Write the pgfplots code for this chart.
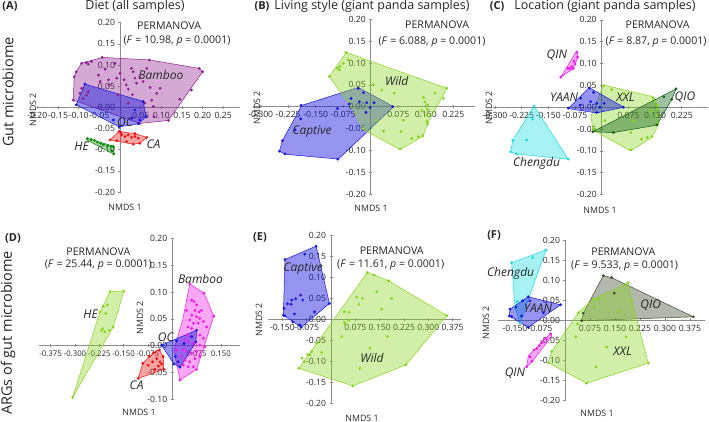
\documentclass[border=0pt]{standalone}
\usepackage{fontspec}
\setmainfont{Open Sans}
\usepackage{pgfplots}
\pgfplotsset{compat=1.18}
\definecolor{axgray}{HTML}{8C8C8C}
\definecolor{txt}{HTML}{262626}
\definecolor{cPurple}{HTML}{8E1F8E}
\definecolor{cBlue}{HTML}{1515E0}
\definecolor{cRed}{HTML}{F01010}
\definecolor{cGreen}{HTML}{0A8A0A}
\definecolor{cLime}{HTML}{86D41A}
\definecolor{cCyan}{HTML}{19D9E0}
\definecolor{cMag}{HTML}{F018E8}
\definecolor{cDark}{HTML}{0E5E14}
\definecolor{cOlive}{HTML}{3E4A30}

\pgfplotsset{
  nmds/.style={axis lines=middle, clip=false, enlargelimits=false, anchor=south west,
    axis line style={-, draw=axgray, line width=0.7pt},
    tick style={draw=axgray, line width=0.6pt}, major tick length=3pt,
    tick label style={font=\fontsize{8.6}{9}\selectfont, text=txt},
    scaled ticks=false, hide obscured x ticks=false, hide obscured y ticks=false,
    /pgf/number format/fixed, /pgf/number format/fixed zerofill,
    /pgf/number format/assume math mode=true,
    yticklabel style={/pgf/number format/precision=2}},
  hull/.style={draw=#1, fill=#1, fill opacity=0.38, line width=0.5pt, mark=none, forget plot},
  pts/.style={only marks, mark=*, mark size=1.2pt, color=#1, mark options={draw=#1, fill=#1}, forget plot},
}
\tikzset{
  grp/.style={font=\fontsize{12}{13}\selectfont\itshape, text=txt},
  perm/.style={font=\fontsize{10.6}{12}\selectfont, text=txt},
}

\begin{document}
\begin{tikzpicture}
\path[use as bounding box] (0pt,0pt) rectangle (709pt,422pt);

% ---------- (A) diet, gut microbiome
\begin{axis}[nmds, at={(37.4pt,230pt)}, x=413pt, y=423.3pt,
  xmin=-0.2, xmax=0.29, ymin=-0.2, ymax=0.2,
  xtick={-0.2,-0.15,-0.1,-0.05,0.05,0.1,0.15,0.2,0.25},
  ytick={-0.2,-0.15,-0.1,-0.05,0,0.05,0.1,0.15,0.2},
  xticklabel style={/pgf/number format/precision=2}]
\addplot[hull=cPurple] coordinates {(-0.113,0.017)(-0.111,0.072)(-0.106,0.084)(-0.093,0.104)(-0.043,0.118)(0.071,0.112)(0.192,0.092)(0.200,0.084)(0.117,-0.031)(0.048,-0.038)} -- cycle;
\addplot[pts=cPurple] coordinates {(-0.111,0.072)(-0.106,0.084)(-0.093,0.104)(-0.082,0.106)(-0.077,0.102)(-0.069,0.108)(-0.043,0.118)(-0.052,0.076)(-0.048,0.061)(-0.036,0.090)(-0.028,0.065)(-0.026,0.053)(-0.012,0.104)(-0.008,0.069)(0.000,0.080)(0.010,0.065)(0.015,0.053)(0.020,0.043)(0.028,0.092)(0.032,0.084)(0.036,0.069)(0.040,0.057)(0.048,0.072)(0.056,0.061)(0.065,0.092)(0.071,0.112)(0.073,0.047)(0.077,0.017)(0.081,0.002)(0.082,-0.022)(0.089,0.033)(0.097,0.045)(0.117,-0.031)(0.145,0.019)(0.173,0.041)(0.192,0.092)(0.200,0.084)(-0.081,0.029)(-0.089,0.021)(-0.097,0.033)(-0.077,0.037)(-0.093,0.045)(-0.113,0.017)(0.048,-0.038)(0.060,0.010)(0.020,0.010)(-0.005,0.030)(0.030,0.030)};
\addplot[hull=cBlue, fill opacity=0.45] coordinates {(-0.085,0.055)(0.056,0.014)(0.063,-0.022)(0.044,-0.039)(-0.002,-0.046)(-0.106,0.006)} -- cycle;
\addplot[pts=cBlue] coordinates {(-0.085,0.055)(-0.106,0.006)(0.056,0.014)(0.063,-0.022)(0.044,-0.039)(-0.002,-0.046)(0.036,-0.006)(0.028,-0.026)(0.048,-0.030)(-0.016,-0.030)};
\addplot[hull=cRed] coordinates {(-0.002,-0.057)(0.036,-0.062)(0.065,-0.071)(0.048,-0.085)(0.032,-0.087)(-0.024,-0.077)} -- cycle;
\addplot[pts=cRed] coordinates {(-0.002,-0.057)(-0.024,-0.077)(0.032,-0.087)(0.065,-0.071)(0.004,-0.065)(0.012,-0.069)(0.020,-0.065)(0.028,-0.071)(0.036,-0.069)(0.044,-0.073)(0.048,-0.085)(0.016,-0.081)(-0.008,-0.079)(0.002,-0.060)(0.036,-0.062)};
\addplot[hull=cGreen] coordinates {(-0.080,-0.073)(-0.015,-0.092)(-0.015,-0.111)(-0.080,-0.077)} -- cycle;
\addplot[pts=cGreen] coordinates {(-0.079,-0.074)(-0.070,-0.076)(-0.062,-0.078)(-0.055,-0.082)(-0.047,-0.085)(-0.040,-0.088)(-0.030,-0.090)(-0.022,-0.092)(-0.016,-0.093)(-0.015,-0.110)(-0.020,-0.103)};
\node[grp] at (axis cs:0.099,0.076) {Bamboo};
\node[grp] at (axis cs:0.012,-0.036) {OC};
\node[grp] at (axis cs:-0.093,-0.093) {HE};
\node[grp] at (axis cs:0.081,-0.087) {CA};
\node[perm] at (axis cs:0.119,0.194) {PERMANOVA};
\node[perm] at (axis cs:0.138,0.157) {(\textit{F} = 10.98, \textit{p} = 0.0001)};
\end{axis}

% ---------- (B) living style, gut microbiome
\begin{axis}[nmds, at={(253.4pt,228pt)}, x=366.7pt, y=436.7pt,
  xmin=-0.32, xmax=0.285, ymin=-0.2, ymax=0.2,
  xtick={-0.3,-0.225,-0.15,-0.075,0.075,0.15,0.225},
  ytick={-0.2,-0.15,-0.1,-0.05,0,0.05,0.1,0.15,0.2},
  xticklabel style={/pgf/number format/precision=3}]
\addplot[hull=cBlue, fill opacity=0.45] coordinates {(-0.188,0.003)(-0.034,0.044)(0.062,0.000)(-0.088,-0.120)(-0.234,-0.109)(-0.249,-0.102)(-0.241,-0.078)} -- cycle;
\addplot[pts=cBlue] coordinates {(-0.034,0.042)(-0.020,0.032)(-0.054,0.019)(-0.031,0.011)(-0.011,0.009)(0.009,0.009)(-0.091,-0.004)(-0.059,0.006)(-0.002,-0.002)(-0.013,-0.013)(0.060,0.000)(-0.190,0.003)(-0.191,-0.028)(-0.206,-0.053)(-0.241,-0.078)(-0.249,-0.102)(-0.234,-0.108)(-0.090,-0.120)};
\addplot[hull=cLime] coordinates {(-0.113,0.069)(-0.067,0.124)(0.208,0.042)(0.160,-0.030)(0.142,-0.068)(0.080,-0.098)(-0.020,-0.053)(-0.050,-0.005)} -- cycle;
\addplot[pts=cLime] coordinates {(-0.067,0.124)(-0.061,0.107)(-0.075,0.099)(-0.084,0.092)(-0.091,0.088)(-0.085,0.084)(-0.113,0.069)(0.007,0.050)(0.030,0.038)(0.064,0.031)(0.144,0.021)(0.148,0.011)(0.155,0.004)(0.155,-0.006)(0.139,-0.009)(0.153,-0.019)(0.153,-0.034)(0.155,-0.040)(0.198,0.019)(0.207,0.042)(0.175,0.031)(0.089,-0.031)(0.035,-0.056)(0.082,-0.057)(0.112,-0.073)(0.130,-0.069)(0.142,-0.067)(0.080,-0.097)(-0.020,-0.050)(0.016,-0.031)};
\node[grp] at (axis cs:0.071,0.059) {Wild};
\node[grp] at (axis cs:-0.160,-0.057) {Captive};
\node[perm] at (axis cs:0.181,0.187) {PERMANOVA};
\node[perm] at (axis cs:0.167,0.149) {(\textit{F} = 6.088, \textit{p} = 0.0001)};
\end{axis}

% ---------- (C) location, gut microbiome
\begin{axis}[nmds, at={(493.2pt,227.4pt)}, x=355.7pt, y=436.7pt,
  xmin=-0.305, xmax=0.30, ymin=-0.2, ymax=0.2,
  xtick={-0.3,-0.225,-0.15,-0.075,0.075,0.15,0.225},
  ytick={-0.2,-0.15,-0.1,-0.05,0,0.05,0.1,0.15,0.2},
  xticklabel style={/pgf/number format/precision=3}]
\addplot[hull=cMag] coordinates {(-0.115,0.069)(-0.071,0.128)(-0.066,0.116)(-0.080,0.088)} -- cycle;
\addplot[pts=cMag] coordinates {(-0.070,0.126)(-0.068,0.115)(-0.078,0.105)(-0.075,0.099)(-0.084,0.093)(-0.089,0.089)(-0.095,0.089)(-0.080,0.089)(-0.115,0.069)};
\addplot[hull=cCyan] coordinates {(-0.190,0.003)(-0.094,-0.119)(-0.239,-0.107)(-0.256,-0.102)(-0.250,-0.076)} -- cycle;
\addplot[pts=cCyan] coordinates {(-0.190,0.003)(-0.194,-0.027)(-0.211,-0.075)(-0.250,-0.076)(-0.256,-0.102)(-0.239,-0.107)(-0.094,-0.119)};
\addplot[hull=cLime] coordinates {(0.005,0.051)(0.145,0.024)(0.160,-0.005)(0.158,-0.042)(0.141,-0.069)(0.082,-0.100)(-0.025,-0.052)(-0.030,-0.020)} -- cycle;
\addplot[pts=cLime] coordinates {(0.005,0.049)(0.028,0.040)(0.063,0.031)(0.145,0.021)(0.150,0.013)(0.157,0.005)(0.157,-0.005)(0.141,-0.008)(0.155,-0.018)(0.155,-0.035)(0.157,-0.040)(0.089,-0.031)(0.082,-0.058)(0.112,-0.073)(0.128,-0.069)(0.141,-0.067)(0.082,-0.098)(-0.023,-0.050)(0.009,-0.031)};
\addplot[hull=cDark, fill opacity=0.4] coordinates {(-0.025,-0.056)(0.209,0.042)(0.197,0.018)(0.155,-0.041)(0.033,-0.058)} -- cycle;
\addplot[pts=cDark] coordinates {(-0.025,-0.056)(0.033,-0.058)(0.209,0.042)(0.197,0.018)(0.175,0.024)(0.155,-0.040)};
\addplot[hull=cBlue, fill opacity=0.45] coordinates {(-0.094,-0.003)(-0.035,0.045)(0.062,0.000)(-0.014,-0.013)} -- cycle;
\addplot[pts=cBlue] coordinates {(-0.035,0.044)(-0.023,0.034)(-0.059,0.021)(-0.031,0.013)(-0.014,0.009)(0.007,0.009)(-0.094,-0.002)(-0.061,0.005)(-0.005,0.000)(-0.014,-0.012)(0.061,0.000)};
\node[grp] at (axis cs:-0.126,0.120) {QIN};
\node[grp] at (axis cs:-0.106,0.022) {YAAN};
\node[grp] at (axis cs:0.067,0.022) {XXL};
\node[grp] at (axis cs:0.234,0.022) {QIO};
\node[grp] at (axis cs:-0.183,-0.128) {Chengdu};
\node[perm] at (axis cs:0.157,0.189) {PERMANOVA};
\node[perm] at (axis cs:0.153,0.150) {(\textit{F} = 8.87, \textit{p} = 0.0001)};
\end{axis}

% ---------- (D) diet, ARGs
\begin{axis}[nmds, at={(39.3pt,22.6pt)}, x=324.3pt, y=536.7pt,
  xmin=-0.41, xmax=0.21, ymin=-0.1, ymax=0.2,
  xtick={-0.375,-0.3,-0.225,-0.15,-0.075,0.075,0.15},
  ytick={-0.1,-0.05,0,0.05,0.1,0.15,0.2},
  xticklabel style={/pgf/number format/precision=3, font=\fontsize{7.8}{8}\selectfont}]
\addplot[hull=cLime] coordinates {(-0.307,-0.096)(-0.223,0.063)(-0.192,0.101)(-0.149,0.102)(-0.182,0.035)} -- cycle;
\addplot[pts=cLime] coordinates {(-0.192,0.101)(-0.149,0.102)(-0.200,0.076)(-0.213,0.073)(-0.223,0.063)(-0.205,0.060)(-0.215,0.032)(-0.218,0.028)(-0.208,0.026)(-0.194,0.029)(-0.182,0.035)(-0.307,-0.096)};
\addplot[hull=cRed] coordinates {(-0.105,-0.061)(-0.091,-0.033)(-0.057,-0.013)(-0.040,-0.008)(-0.028,-0.020)(-0.026,-0.044)} -- cycle;
\addplot[pts=cRed] coordinates {(-0.105,-0.061)(-0.091,-0.033)(-0.071,-0.020)(-0.057,-0.013)(-0.040,-0.008)(-0.028,-0.020)(-0.026,-0.044)(-0.048,-0.024)(-0.061,-0.030)(-0.038,-0.030)(-0.043,-0.038)(-0.033,-0.034)(-0.053,-0.044)(-0.074,-0.036)};
\addplot[hull=cMag] coordinates {(0.054,0.115)(0.098,0.098)(0.128,0.055)(0.101,0.004)(0.075,-0.044)(0.024,-0.064)(0.005,-0.008)(0.032,0.048)} -- cycle;
\addplot[pts=cMag] coordinates {(0.054,0.115)(0.098,0.098)(0.128,0.055)(0.075,-0.044)(0.024,-0.064)(0.060,0.085)(0.067,0.082)(0.075,0.076)(0.070,0.066)(0.083,0.063)(0.090,0.066)(0.060,0.057)(0.075,0.054)(0.085,0.051)(0.054,0.048)(0.065,0.042)(0.080,0.042)(0.096,0.045)(0.049,0.035)(0.060,0.032)(0.044,0.020)(0.054,0.017)(0.085,0.020)(0.096,0.014)(0.039,0.011)(0.049,0.007)(0.065,0.004)(0.085,0.001)(0.101,-0.002)(0.034,-0.008)(0.044,-0.011)(0.060,-0.014)(0.075,-0.011)(0.029,-0.020)(0.039,-0.027)(0.054,-0.030)(0.070,-0.024)(0.034,-0.036)(0.049,-0.039)(0.065,-0.039)(0.085,-0.020)(0.106,0.035)(0.013,-0.008)(0.044,0.066)};
\addplot[hull=cBlue, fill opacity=0.45] coordinates {(-0.033,0.001)(0.075,0.029)(0.073,0.007)(0.024,-0.040)(0.005,-0.034)} -- cycle;
\addplot[pts=cBlue] coordinates {(-0.033,0.001)(0.013,0.009)(0.075,0.029)(0.073,0.007)(0.024,-0.040)(0.005,-0.034)(0.010,-0.020)(0.018,-0.030)(0.036,0.004)(0.060,0.017)};
\node[grp] at (axis cs:0.087,0.124) {Bamboo};
\node[grp] at (axis cs:-0.252,0.059) {HE};
\node[grp] at (axis cs:-0.020,0.016) {OC};
\node[grp] at (axis cs:-0.110,-0.074) {CA};
\node[perm] at (axis cs:-0.228,0.175) {PERMANOVA};
\node[perm] at (axis cs:-0.228,0.150) {(\textit{F} = 25.44, \textit{p} = 0.0001)};
\end{axis}

% ---------- (E) living style, ARGs
\begin{axis}[nmds, at={(267.8pt,19pt)}, x=324.3pt, y=418.3pt,
  xmin=-0.195, xmax=0.40, ymin=-0.2, ymax=0.2,
  xtick={-0.15,-0.075,0.075,0.15,0.225,0.3,0.375},
  ytick={-0.2,-0.15,-0.1,-0.05,0,0.05,0.1,0.15,0.2},
  xticklabel style={/pgf/number format/precision=3}]
\addplot[hull=cLime] coordinates {(-0.099,-0.117)(0.112,0.112)(0.133,0.106)(0.178,0.092)(0.357,0.009)(0.231,-0.109)(0.067,-0.159)} -- cycle;
\addplot[pts=cLime] coordinates {(0.112,0.112)(0.133,0.106)(0.178,0.092)(0.141,0.066)(0.187,0.050)(0.079,0.053)(0.097,0.050)(0.086,0.036)(0.156,0.024)(0.041,0.018)(0.055,0.017)(0.041,-0.007)(0.043,-0.011)(0.055,-0.002)(0.357,0.009)(0.174,-0.041)(0.033,-0.041)(0.120,-0.069)(0.089,-0.117)(0.231,-0.109)(0.067,-0.159)(-0.099,-0.117)(-0.090,-0.093)(-0.083,-0.101)(-0.072,-0.084)(-0.060,-0.077)(-0.065,-0.085)(-0.044,-0.057)(-0.029,-0.079)};
\addplot[hull=cBlue, fill opacity=0.45] coordinates {(-0.142,0.143)(-0.046,0.175)(-0.005,0.038)(-0.092,-0.019)(-0.147,0.010)} -- cycle;
\addplot[pts=cBlue] coordinates {(-0.142,0.143)(-0.046,0.175)(-0.081,0.156)(-0.005,0.038)(-0.051,0.018)(-0.094,0.058)(-0.109,0.049)(-0.121,0.046)(-0.087,0.046)(-0.134,0.037)(-0.123,0.036)(-0.145,0.026)(-0.113,0.013)(-0.147,0.010)(-0.142,0.008)(-0.118,-0.006)(-0.092,-0.019)(-0.096,-0.014)};
\node[grp] at (axis cs:-0.086,0.122) {Captive};
\node[grp] at (axis cs:0.126,-0.092) {Wild};
\node[perm] at (axis cs:0.187,0.164) {PERMANOVA};
\node[perm] at (axis cs:0.184,0.130) {(\textit{F} = 11.61, \textit{p} = 0.0001)};
\end{axis}

% ---------- (F) location, ARGs
\begin{axis}[nmds, at={(498.3pt,22pt)}, x=333.3pt, y=400pt,
  xmin=-0.2, xmax=0.42, ymin=-0.2, ymax=0.2,
  xtick={-0.15,-0.075,0.075,0.15,0.225,0.3,0.375},
  ytick={-0.2,-0.15,-0.1,-0.05,0,0.05,0.1,0.15,0.2},
  xticklabel style={/pgf/number format/precision=3}]
\addplot[hull=cOlive, fill opacity=0.4] coordinates {(0.050,-0.002)(0.055,0.017)(0.115,0.111)(0.140,0.106)(0.385,0.008)} -- cycle;
\addplot[pts=cOlive] coordinates {(0.115,0.111)(0.140,0.106)(0.148,0.067)(0.385,0.008)(0.055,0.017)(0.050,-0.002)};
\addplot[hull=cLime] coordinates {(-0.050,-0.107)(-0.040,-0.079)(0.040,0.018)(0.085,0.052)(0.190,0.093)(0.200,0.050)(0.250,-0.108)(0.065,-0.158)} -- cycle;
\addplot[pts=cLime] coordinates {(0.190,0.093)(0.200,0.050)(0.085,0.052)(0.100,0.052)(0.088,0.033)(0.163,0.021)(0.040,0.018)(0.038,-0.010)(0.032,-0.042)(0.183,-0.042)(0.125,-0.068)(0.093,-0.117)(0.250,-0.108)(0.065,-0.158)(-0.040,-0.079)(-0.050,-0.107)};
\addplot[hull=cCyan] coordinates {(-0.160,0.143)(-0.057,0.175)(-0.135,-0.007)(-0.150,0.033)} -- cycle;
\addplot[pts=cCyan] coordinates {(-0.160,0.143)(-0.097,0.156)(-0.057,0.175)(-0.143,0.046)(-0.150,0.033)(-0.135,-0.007)};
\addplot[hull=cBlue, fill opacity=0.45] coordinates {(-0.167,0.010)(-0.165,0.027)(-0.110,0.058)(-0.013,0.038)(-0.110,-0.018)} -- cycle;
\addplot[pts=cBlue] coordinates {(-0.165,0.027)(-0.167,0.010)(-0.160,0.008)(-0.147,0.032)(-0.127,0.048)(-0.110,0.058)(-0.105,0.048)(-0.065,0.018)(-0.013,0.038)(-0.110,-0.018)(-0.130,0.010)};
\addplot[hull=cMag] coordinates {(-0.115,-0.117)(-0.110,-0.090)(-0.043,-0.033)(-0.040,-0.040)(-0.099,-0.105)} -- cycle;
\addplot[pts=cMag] coordinates {(-0.043,-0.035)(-0.057,-0.046)(-0.070,-0.057)(-0.077,-0.064)(-0.085,-0.071)(-0.093,-0.075)(-0.105,-0.092)(-0.099,-0.103)(-0.115,-0.117)};
\node[grp] at (axis cs:-0.163,0.117) {Chengdu};
\node[grp] at (axis cs:-0.081,0.029) {YAAN};
\node[grp] at (axis cs:0.257,0.037) {QIO};
\node[grp] at (axis cs:0.173,-0.079) {XXL};
\node[grp] at (axis cs:-0.150,-0.132) {QIN};
\node[perm] at (axis cs:0.175,0.171) {PERMANOVA};
\node[perm] at (axis cs:0.179,0.135) {(\textit{F} = 9.533, \textit{p} = 0.0001)};
\end{axis}

% ---------- titles and row labels
\begin{scope}[every node/.style={text=txt}]
\node[font=\fontsize{14.5}{16}\selectfont, rotate=90] at (8pt,330pt) {Gut microbiome};
\node[font=\fontsize{14.5}{16}\selectfont, rotate=90] at (8pt,89pt) {ARGs of gut microbiome};
\node[font=\bfseries\fontsize{11}{12}\selectfont] at (10pt,416pt) {(A)};
\node[font=\fontsize{12.5}{14}\selectfont] at (135pt,416pt) {Diet (all samples)};
\node[font=\bfseries\fontsize{11}{12}\selectfont] at (262pt,416pt) {(B)};
\node[font=\fontsize{12.5}{14}\selectfont] at (372pt,416pt) {Living style (giant panda samples)};
\node[font=\bfseries\fontsize{11}{12}\selectfont] at (497pt,416pt) {(C)};
\node[font=\fontsize{12.5}{14}\selectfont] at (605pt,416pt) {Location (giant panda samples)};
\node[font=\bfseries\fontsize{11}{12}\selectfont] at (13pt,184pt) {(D)};
\node[font=\bfseries\fontsize{11}{12}\selectfont] at (260pt,185pt) {(E)};
\node[font=\bfseries\fontsize{11}{12}\selectfont] at (494pt,187pt) {(F)};
\foreach \x/\y in {125/215, 371/214, 600/212, 139/10, 362/4, 597/9}
  \node[font=\fontsize{8.8}{9}\selectfont] at (\x pt,\y pt) {NMDS 1};
\foreach \x/\y in {33/312, 257/314, 489/314, 140/104, 259/102, 486/99}
  \node[font=\fontsize{8.8}{9}\selectfont, rotate=90] at (\x pt,\y pt) {NMDS 2};
\end{scope}
\end{tikzpicture}
\end{document}
